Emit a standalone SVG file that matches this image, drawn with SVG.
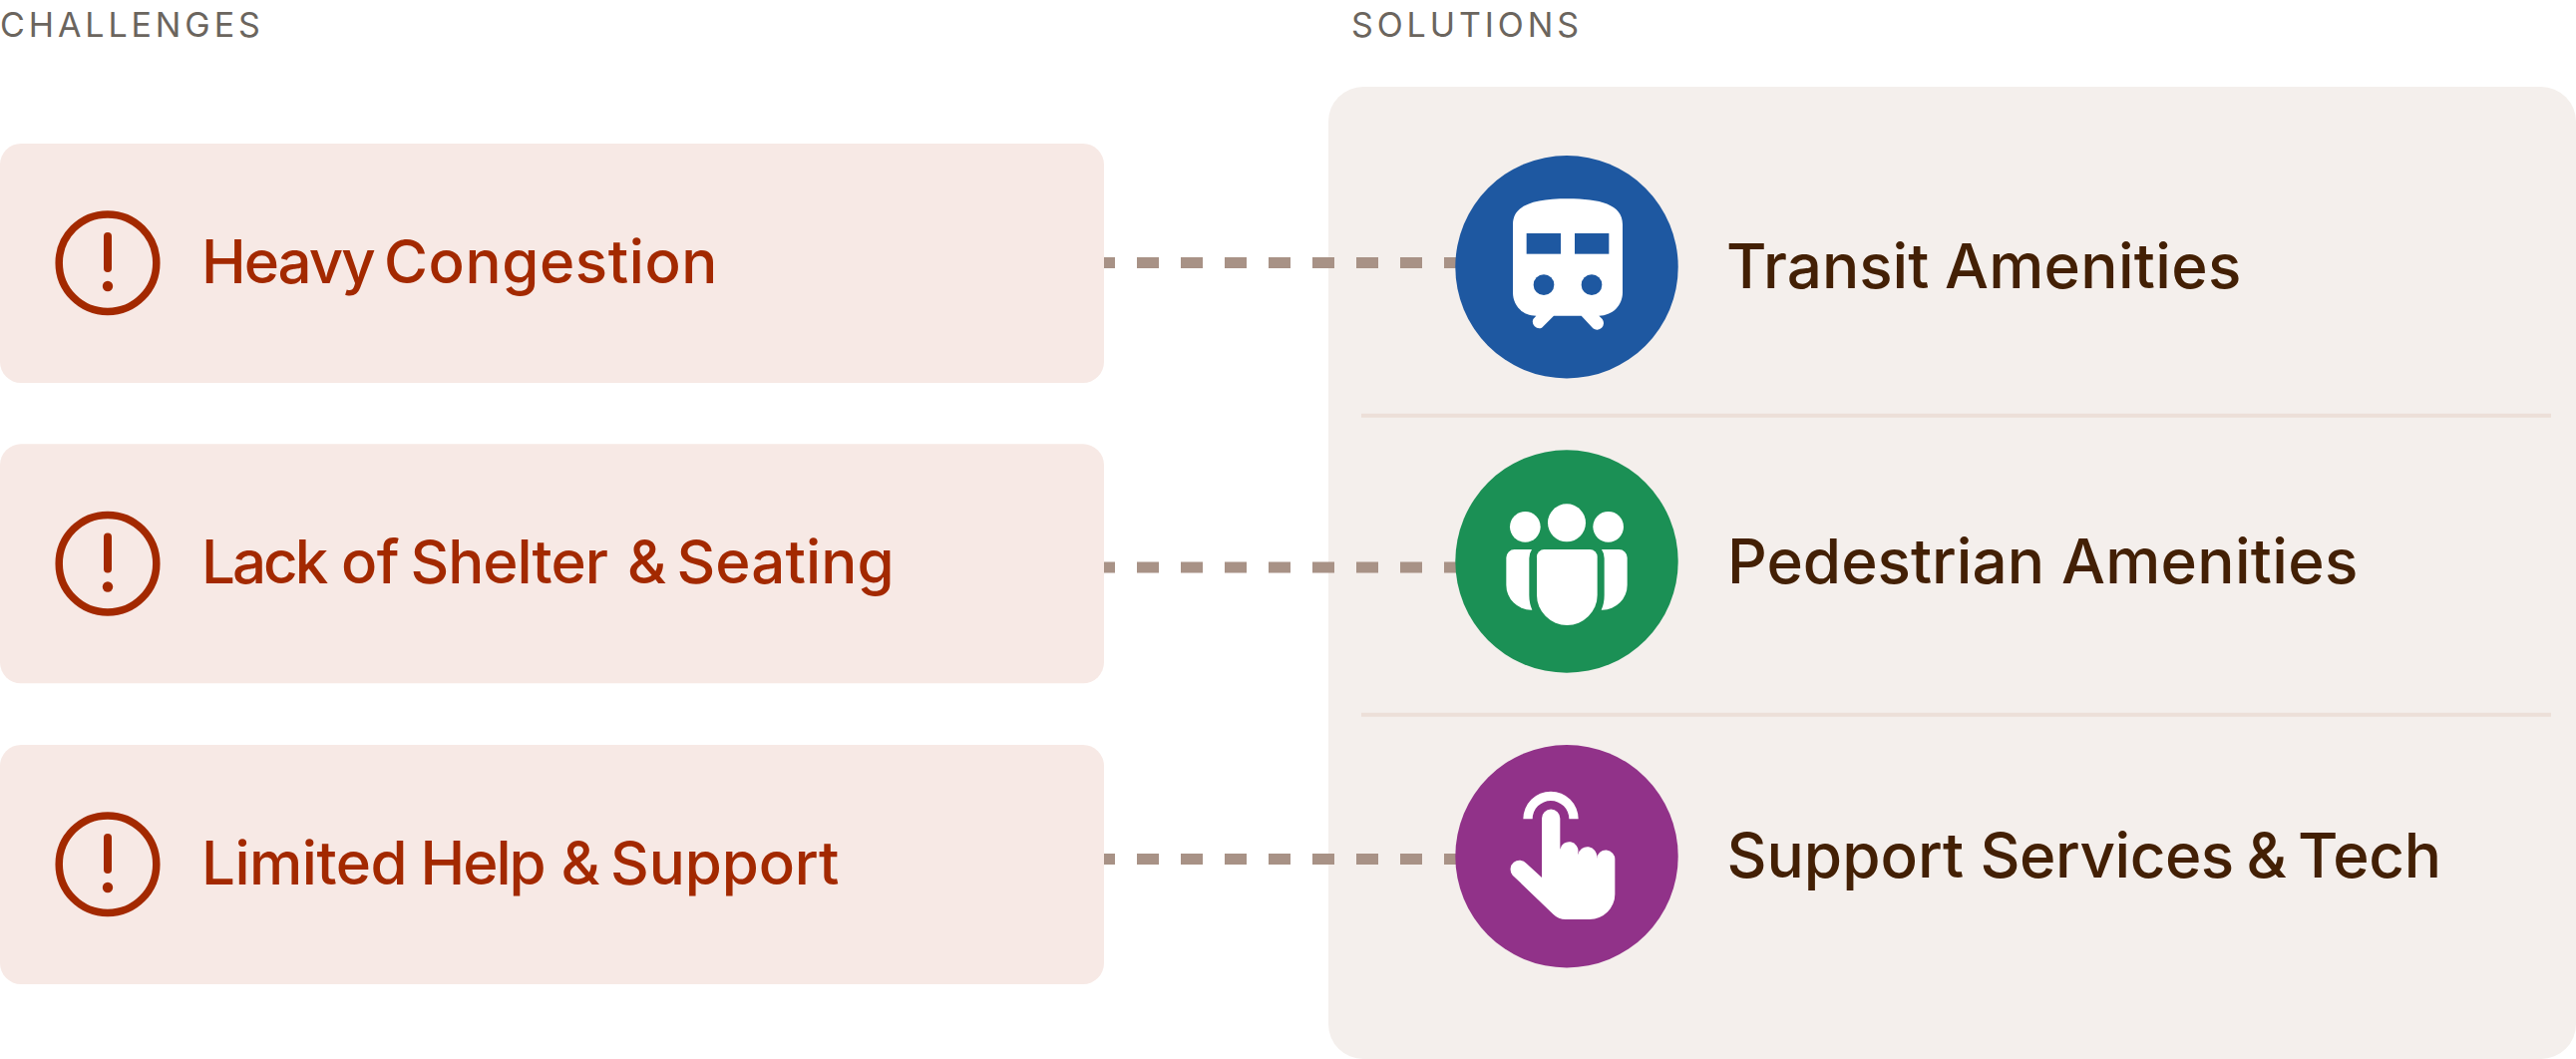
<svg xmlns="http://www.w3.org/2000/svg" width="2583" height="1062" viewBox="0 0 2583 1062">
<style>
.hdr{font-family:"Inter","Liberation Sans",sans-serif;font-size:34px;fill:#6b655e;letter-spacing:3.9px}
.ch{font-family:"Inter","Liberation Sans",sans-serif;font-size:60px;font-weight:550;fill:#a32900;letter-spacing:-.5px}
.so{font-family:"Inter","Liberation Sans",sans-serif;font-size:62px;font-weight:550;fill:#432005}
.box{fill:#f7e9e5}
.dash{stroke:#a89286;stroke-width:11;stroke-dasharray:22 22;stroke-dashoffset:11;fill:none}
.div{stroke:#ecdfd8;stroke-width:4}
.alert{fill:none;stroke:#a32900;stroke-width:7.5}
.w{fill:#fff}
</style>
<rect width="2583" height="1062" fill="#fff"/>
<text class="hdr" x="0" y="37">CHALLENGES</text>
<text class="hdr" x="1355" y="37">SOLUTIONS</text>
<g id="solutions-panel">
<rect x="1332" y="87" width="1251" height="975" rx="35" fill="#f4efec"/>
<line class="div" x1="1365" y1="416.7" x2="2558" y2="416.7"/>
<line class="div" x1="1365" y1="716.7" x2="2558" y2="716.7"/>
</g>
<g id="challenge-1">
<rect class="box" x="0" y="144" width="1107" height="240" rx="21"/>
<circle class="alert" cx="108" cy="263.7" r="48.8"/>
<path d="M108,237V269" stroke="#a32900" stroke-width="8" stroke-linecap="round"/><circle cx="108" cy="287" r="5.2" fill="#a32900"/>
<text class="ch" y="283.5"><tspan x="202" style="letter-spacing:-2px">Heavy</tspan> <tspan x="385" style="letter-spacing:.6px">Congestion</tspan></text>
</g>
<g id="challenge-2">
<rect class="box" x="0" y="445.3" width="1107" height="240" rx="21"/>
<circle class="alert" cx="108" cy="565.2" r="48.8"/>
<path d="M108,538.5V570.5" stroke="#a32900" stroke-width="8" stroke-linecap="round"/><circle cx="108" cy="588.5" r="5.2" fill="#a32900"/>
<text class="ch" y="585"><tspan x="202" style="letter-spacing:-3px">Lack</tspan> <tspan x="342">of</tspan> <tspan x="411.5" style="letter-spacing:-1px">Shelter</tspan> <tspan x="629">&amp;</tspan> <tspan x="678.5" style="letter-spacing:.1px">Seating</tspan></text>
</g>
<g id="challenge-3">
<rect class="box" x="0" y="747" width="1107" height="240" rx="21"/>
<circle class="alert" cx="108" cy="866.7" r="48.8"/>
<path d="M108,840V872" stroke="#a32900" stroke-width="8" stroke-linecap="round"/><circle cx="108" cy="890" r="5.2" fill="#a32900"/>
<text class="ch" y="886.7"><tspan x="202">Limited</tspan> <tspan x="421.5" style="letter-spacing:-2px">Help</tspan> <tspan x="562.5">&amp;</tspan> <tspan x="612" style="letter-spacing:-.1px">Support</tspan></text>
</g>
<g id="connectors">
<path class="dash" d="M1107,263.5H1470"/>
<path class="dash" d="M1107,569H1470"/>
<path class="dash" d="M1107,861.5H1470"/>
</g>
<g id="solution-1">
<circle cx="1571" cy="267.7" r="111.7" fill="#1e58a1"/>
<g transform="translate(1420,130) scale(.33333)">
<path class="w" d="M291,285C291,225 360,208 456,208C552,208 621,225 621,285V490C621,530 590,560 550,560L560,570A20,20 0 0 1 532,598L497,560H414L378,596A20,20 0 0 1 352,570L361,560C320,560 291,530 291,490Z"/>
<rect x="332" y="312" width="103" height="62" fill="#1e58a1"/><rect x="477" y="312" width="103" height="62" fill="#1e58a1"/>
<circle cx="384" cy="467" r="31" fill="#1e58a1"/><circle cx="528" cy="467" r="31" fill="#1e58a1"/>
</g>
<text class="so" y="289"><tspan x="1731">Transit</tspan> <tspan x="1950" style="letter-spacing:.3px">Amenities</tspan></text>
</g>
<g id="solution-2">
<circle cx="1571" cy="563" r="111.7" fill="#1b9055"/>
<g transform="translate(1420,430) scale(.33333)">
<circle class="w" cx="328" cy="295" r="46"/><circle class="w" cx="453" cy="283" r="57"/><circle class="w" cx="578" cy="295" r="46"/>
<path class="w" d="M363,385A22,22 0 0 1 385,363H523A22,22 0 0 1 545,385V500A91,91 0 0 1 363,500Z"/>
<path class="w" d="M348,363H296A25,25 0 0 0 271,388V470A75,75 0 0 0 346,545H349Q340,525 340,500V390Q340,375 348,363Z"/>
<path class="w" d="M558,363H610A25,25 0 0 1 635,388V470A75,75 0 0 1 560,545H557Q566,525 566,500V390Q566,375 558,363Z"/>
</g>
<text class="so" y="584.5"><tspan x="1732">Pedestrian</tspan> <tspan x="2067" style="letter-spacing:.3px">Amenities</tspan></text>
</g>
<g id="solution-3">
<circle cx="1571" cy="858.7" r="111.7" fill="#913289"/>
<g transform="translate(1420,730) scale(.33333)">
<path class="w" d="M322,274A83,83 0 0 1 488,274H460A55,55 0 0 0 350,274Z"/>
<path class="w" d="M378,272A27.5,27.5 0 0 1 433,272V365A27,27 0 0 1 487,375V382A28,28 0 0 1 543,390V393A27.5,27.5 0 0 1 598,397V500A76,76 0 0 1 522,576H450Q428,576 412,560L290,443A22,22 0 0 1 332,408L378,450Z"/>
</g>
<text class="so" y="880"><tspan x="1731.5">Support</tspan> <tspan x="1985.5" style="letter-spacing:-.5px">Services</tspan> <tspan x="2252.5">&amp;</tspan> <tspan x="2304" style="letter-spacing:-.4px">Tech</tspan></text>
</g>
</svg>
